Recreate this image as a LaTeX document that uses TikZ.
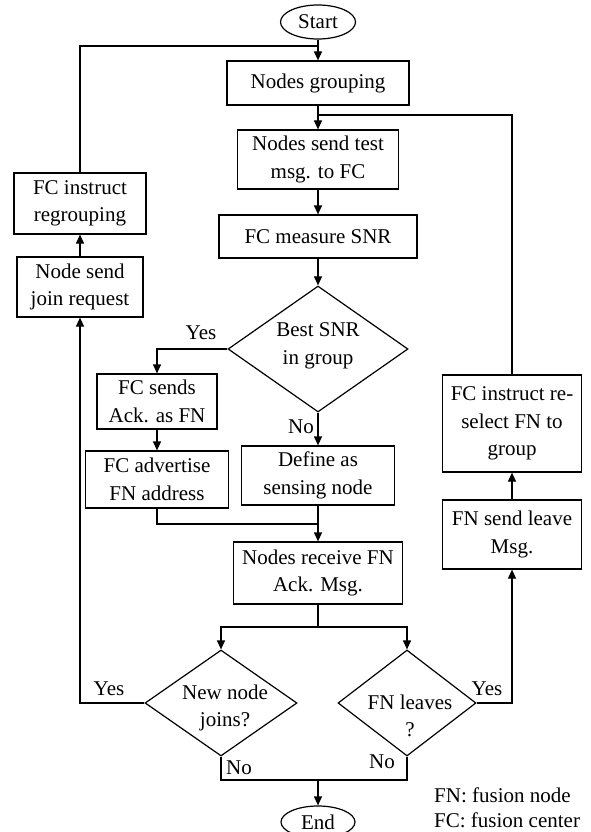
\documentclass[tikz,border=0pt]{standalone}
\usepackage{fontspec}
\setmainfont{Liberation Serif}
\usetikzlibrary{shapes.geometric,arrows.meta}
\begin{document}
\begin{tikzpicture}[x=1pt,y=-1pt,
 every node/.style={font=\fontsize{21}{27.5}\selectfont, inner sep=0pt},
 box/.style={draw, line width=1.2pt, rectangle, align=center},
 dia/.style={draw, line width=1.2pt, diamond, inner sep=0pt},
 term/.style={draw, line width=1.2pt, ellipse},
 txt/.style={align=center},
 conn/.style={line width=1.2pt},
 arr/.style={line width=1.2pt, -{Triangle[length=9pt,width=8pt]}}
]
\useasboundingbox (0,0) rectangle (590,832);

% terminals
\node[term, minimum width=75pt, minimum height=34pt] (start) at (318,22) {Start};
\node[term, minimum width=74pt, minimum height=32pt] (end) at (318,822) {End};

% main column
\node[box, minimum width=182pt, minimum height=44pt] (group) at (318,83) {Nodes grouping};
\node[box, minimum width=161pt, minimum height=59pt] (test) at (318,159.5) {Nodes send test\\msg. to FC};
\node[box, minimum width=198pt, minimum height=43pt] (snr) at (318,236.5) {FC measure SNR};
\node[dia, minimum width=180pt, minimum height=126pt] (best) at (318,349) {};
\node[txt] (bestt) at (318,346) {Best SNR\\in group};
\node[box, minimum width=153pt, minimum height=59pt] (define) at (318,475.5) {Define as\\sensing node};
\node[box, minimum width=169pt, minimum height=62pt] (recv) at (318,573) {Nodes receive FN\\Ack. Msg.};

% left branch
\node[box, minimum width=120pt, minimum height=55pt] (fcsend) at (157,401.5) {FC sends\\Ack. as FN};
\node[box, minimum width=143pt, minimum height=57pt] (adv) at (157,479.5) {FC advertise\\FN address};

% far left
\node[box, minimum width=132pt, minimum height=61pt] (regroup) at (80,203.5) {FC instruct\\regrouping};
\node[box, minimum width=126pt, minimum height=60pt] (join) at (80,287) {Node send\\join request};

% far right
\node[box, minimum width=139pt, minimum height=97pt] (reselect) at (512,423.5) {FC instruct re-\\select FN to\\group};
\node[box, minimum width=139pt, minimum height=69pt] (leave) at (512,534.5) {FN send leave\\Msg.};

% bottom decisions
\node[dia, minimum width=152pt, minimum height=106pt] (newn) at (221,703) {};
\node[txt] (newnt) at (225,708) {New node\\joins?};
\node[dia, minimum width=138pt, minimum height=106pt] (fnl) at (407,703) {};
\node[txt] (fnlt) at (410,716) {FN leaves\\?};

% labels
\node (yes1) at (201,333) {Yes};
\node (no1) at (301,427) {No};
\node (yes2) at (109,689) {Yes};
\node (no2) at (239,768) {No};
\node (yes3) at (487,689) {Yes};
\node (no3) at (382,762) {No};

% legend
\node[anchor=base west] (leg1) at (434,802) {FN: fusion node};
\node[anchor=base west] (leg2) at (434,827) {FC: fusion center};

% junctions
\coordinate (j1) at (318,46);
\coordinate (j2) at (318,115);
\coordinate (j3) at (318,524);
\coordinate (j4) at (318,627);
\coordinate (j5) at (318,780);

% connectors
\draw[arr] (start) -- (group);
\draw[conn] (regroup.north) |- (j1);
\draw[arr] (group) -- (test);
\draw[conn] (reselect.north) |- (j2);
\draw[arr] (test) -- (snr);
\draw[arr] (snr) -- (best);
\draw[arr] (best.west) -| (fcsend.north);
\draw[arr] (best) -- (define);
\draw[arr] (fcsend) -- (adv);
\draw[conn] (adv.south) |- (j3);
\draw[arr] (define) -- (recv);
\draw[conn] (recv) -- (j4);
\draw[arr] (j4) -| (newn.north);
\draw[arr] (j4) -| (fnl.north);
\draw[arr] (newn.west) -| (join.south);
\draw[arr] (join) -- (regroup);
\draw[arr] (fnl.east) -| (leave.south);
\draw[arr] (leave) -- (reselect);
\draw[conn] (newn.south) |- (j5) -| (fnl.south);
\draw[arr] (j5) -- (end);
\end{tikzpicture}
\end{document}
